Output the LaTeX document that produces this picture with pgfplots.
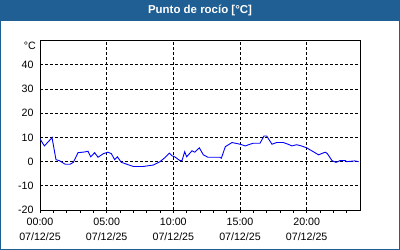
\documentclass[border=0pt]{standalone}
\usepackage{fontspec}
\setmainfont{Liberation Sans}
\usepackage{pgfplots}
\pgfplotsset{compat=1.18}
\definecolor{frameblue}{RGB}{31,95,147}
\definecolor{lineblue}{RGB}{0,0,255}
\begin{document}
\begin{tikzpicture}
\begin{axis}[
  at={(0,0)}, anchor=south west,
  scale only axis, width=320bp, height=169.3bp,
  xmin=0, xmax=24, ymin=-20, ymax=50,
  xtick={0,5,10,15,20},
  xticklabels={00:00\\07/12/25,05:00\\07/12/25,10:00\\07/12/25,15:00\\07/12/25,20:00\\07/12/25},
  xticklabel style={align=center, font=\fontsize{10.7}{14.3}\selectfont, yshift=-2bp},
  minor xtick={1,2,3,4,6,7,8,9,11,12,13,14,16,17,18,19,21,22,23},
  ytick={-20,-10,0,10,20,30,40},
  yticklabel style={font=\fontsize{10.7}{12}\selectfont, /pgf/number format/assume math mode=true},
  grid=major,
  major grid style={black, dash pattern=on 3bp off 2bp, line width=0.8bp},
  axis line style={black, line width=1bp},
  tick align=outside,
  xtick pos=bottom,
  ytick style={draw=none},
  xtick style={black, line width=0.8bp},
  major tick length=3bp, minor tick length=3bp,
]
\addplot[lineblue, line width=0.9bp, mark=none] coordinates {
(0,9.5) (0.1,8.5) (0.33,6.5) (0.75,9.0) (0.9,10.0) (1.2,0.8) (1.45,0.4) (1.9,-1.1)
(2.25,-1.1) (2.5,-0.3) (2.85,3.7) (3.35,4.0) (3.6,4.3) (3.8,2.0) (4.1,3.7) (4.35,1.8)
(4.75,3.3) (5.1,3.9) (5.35,3.3) (5.6,0.8) (5.8,2.0) (6.1,-0.3) (7.0,-2.0) (7.75,-2.0)
(8.5,-1.4) (9.0,0.0) (9.4,1.8) (9.7,3.5) (9.9,2.4) (10.1,2.0) (10.25,1.4) (10.5,0.4)
(10.65,0.4) (10.85,4.1) (11.0,2.0) (11.4,4.5) (11.6,3.9) (11.95,5.7) (12.25,2.8) (12.6,1.8)
(13.5,1.8) (13.6,1.4) (13.9,6.2) (14.4,7.9) (14.75,7.5) (15.0,7.2) (15.4,6.5) (15.75,7.2)
(16.0,7.6) (16.5,7.6) (16.8,10.6) (17.0,10.6) (17.4,7.2) (17.75,7.9) (18.25,7.9) (18.6,7.2)
(18.9,6.5) (19.25,7.0) (19.6,6.5) (20.0,5.7) (20.5,4.1) (20.9,2.8) (21.1,3.3) (21.4,3.9)
(21.55,3.3) (21.9,0.4) (22.2,-0.3) (22.5,0.4) (22.9,0.4) (23.0,0.0) (23.6,0.3) (23.9,0.0)
};
\end{axis}
\node[anchor=east, font=\fontsize{10.7}{12}\selectfont, inner sep=0pt] at (-4bp,164.5bp) {°C};
\fill[frameblue] (-40bp,189bp) rectangle (360bp,210bp);
\draw[frameblue, line width=1bp] (-39.5bp,-39.5bp) rectangle (359.5bp,209.5bp);
\node[font=\bfseries\fontsize{11.5}{12}\selectfont, text=white] at (160bp,199.5bp) {Punto de rocío [°C]};
\end{tikzpicture}
\end{document}
